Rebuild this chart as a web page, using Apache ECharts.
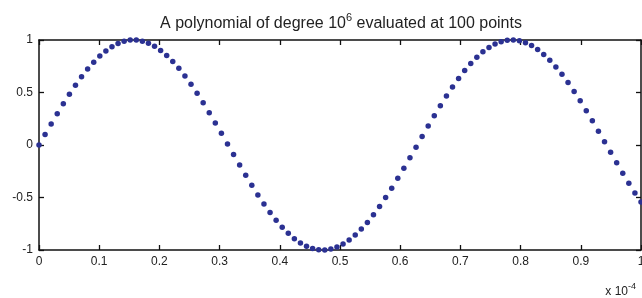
<!DOCTYPE html>
<html>
<head>
<meta charset="utf-8">
<script src="https://cdn.jsdelivr.net/npm/echarts@6/dist/echarts.min.js"></script>
<style>
  html, body { margin: 0; padding: 0; background: #fff; }
  #chart { width: 642px; height: 298px; }
</style>
</head>
<body>
<div id="chart"></div>
<script>
// sample positions (units of 1e-4)
var xs = [
  0.0000, 0.0101, 0.0202, 0.0303, 0.0404, 0.0505, 0.0606, 0.0707, 0.0808, 0.0909,
  0.1010, 0.1111, 0.1212, 0.1313, 0.1414, 0.1515, 0.1616, 0.1717, 0.1818, 0.1919,
  0.2020, 0.2121, 0.2222, 0.2323, 0.2424, 0.2525, 0.2626, 0.2727, 0.2828, 0.2929,
  0.3030, 0.3131, 0.3232, 0.3333, 0.3434, 0.3535, 0.3636, 0.3737, 0.3838, 0.3939,
  0.4040, 0.4141, 0.4242, 0.4343, 0.4444, 0.4545, 0.4646, 0.4747, 0.4848, 0.4949,
  0.5051, 0.5152, 0.5253, 0.5354, 0.5455, 0.5556, 0.5657, 0.5758, 0.5859, 0.5960,
  0.6061, 0.6162, 0.6263, 0.6364, 0.6465, 0.6566, 0.6667, 0.6768, 0.6869, 0.6970,
  0.7071, 0.7172, 0.7273, 0.7374, 0.7475, 0.7576, 0.7677, 0.7778, 0.7879, 0.7980,
  0.8081, 0.8182, 0.8283, 0.8384, 0.8485, 0.8586, 0.8687, 0.8788, 0.8889, 0.8990,
  0.9091, 0.9192, 0.9293, 0.9394, 0.9495, 0.9596, 0.9697, 0.9798, 0.9899, 1.0000
];

// polynomial values
var ys = [
  0.000, 0.101, 0.201, 0.298, 0.393, 0.484, 0.570, 0.650, 0.723, 0.789,
  0.847, 0.896, 0.936, 0.967, 0.988, 0.999, 0.999, 0.989, 0.970, 0.940,
  0.901, 0.852, 0.795, 0.730, 0.657, 0.578, 0.493, 0.402, 0.308, 0.210,
  0.111, 0.010, -0.091, -0.191, -0.289, -0.384, -0.475, -0.561, -0.642, -0.716,
  -0.783, -0.841, -0.892, -0.933, -0.964, -0.986, -0.998, -0.999, -0.991, -0.972,
  -0.943, -0.905, -0.858, -0.801, -0.737, -0.665, -0.586, -0.501, -0.411, -0.317,
  -0.221, -0.121, -0.021, 0.080, 0.180, 0.279, 0.374, 0.466, 0.553, 0.634,
  0.709, 0.776, 0.836, 0.887, 0.929, 0.961, 0.984, 0.997, 1.000, 0.992,
  0.974, 0.947, 0.909, 0.863, 0.807, 0.744, 0.673, 0.595, 0.510, 0.421,
  0.326, 0.231, 0.131, 0.031, -0.070, -0.170, -0.269, -0.365, -0.457, -0.544
];

var titleParts = ['A polynomial of degree 10', '6', ' evaluated at 100 points'];
var xMultiplier = ['x 10', '-4'];

(function () {
    'use strict';

    var font = '"Liberation Sans", Arial, Helvetica, sans-serif';
    var ink = '#222';
    var dotColor = '#2b3192';

    var points = xs.map(function (x, i) {
        return [x, ys[i]];
    });

    var chart = echarts.init(document.getElementById('chart'), null, { renderer: 'canvas' });

    // matlab style box: axis lines on all four sides, ticks pointing in
    function boxAxisLine() {
        return { show: true, onZero: false, lineStyle: { color: '#111', width: 1.5 } };
    }
    function boxTick() {
        return { show: true, inside: true, length: 5, lineStyle: { color: '#111', width: 1.3 } };
    }

    chart.setOption({
        animation: false,
        backgroundColor: '#fff',
        title: {
            text: '{a|' + titleParts[0] + '}{s|' + titleParts[1] + '}{a|' + titleParts[2] + '}',
            left: 336,
            textAlign: 'center',
            top: 7,
            textStyle: {
                fontWeight: 'normal',
                rich: {
                    a: { fontFamily: font, fontSize: 16, fontWeight: 'normal', color: ink },
                    s: { fontFamily: font, fontSize: 11, fontWeight: 'normal', color: ink, padding: [0, 0, 12, 0] }
                }
            }
        },
        grid: { left: 39, right: 1, top: 40, bottom: 48, outerBoundsMode: 'none' },
        xAxis: [{
            type: 'value', min: 0, max: 1, interval: 0.1, position: 'bottom',
            axisLine: boxAxisLine(), axisTick: boxTick(), splitLine: { show: false },
            axisLabel: { color: ink, fontFamily: font, fontSize: 12, margin: 6 }
        }, {
            type: 'value', min: 0, max: 1, interval: 0.1, position: 'top',
            axisLine: boxAxisLine(), axisTick: boxTick(), splitLine: { show: false },
            axisLabel: { show: false }
        }],
        yAxis: [{
            type: 'value', min: -1, max: 1, interval: 0.5, position: 'left',
            axisLine: boxAxisLine(), axisTick: boxTick(), splitLine: { show: false },
            axisLabel: { color: ink, fontFamily: font, fontSize: 12, margin: 6 }
        }, {
            type: 'value', min: -1, max: 1, interval: 0.5, position: 'right',
            axisLine: boxAxisLine(), axisTick: boxTick(), splitLine: { show: false },
            axisLabel: { show: false }
        }],
        graphic: [{
            type: 'text',
            right: 6,
            bottom: 0,
            style: {
                text: '{a|' + xMultiplier[0] + '}{s|' + xMultiplier[1] + '}',
                rich: {
                    a: { fontFamily: font, fontSize: 12, fill: ink },
                    s: { fontFamily: font, fontSize: 9, fill: ink, padding: [0, 0, 10, 0] }
                }
            }
        }],
        series: [{
            type: 'scatter',
            data: points,
            symbol: 'circle',
            symbolSize: 5.5,
            clip: false,
            itemStyle: { color: dotColor, opacity: 1 }
        }]
    });
})();
</script>
</body>
</html>
